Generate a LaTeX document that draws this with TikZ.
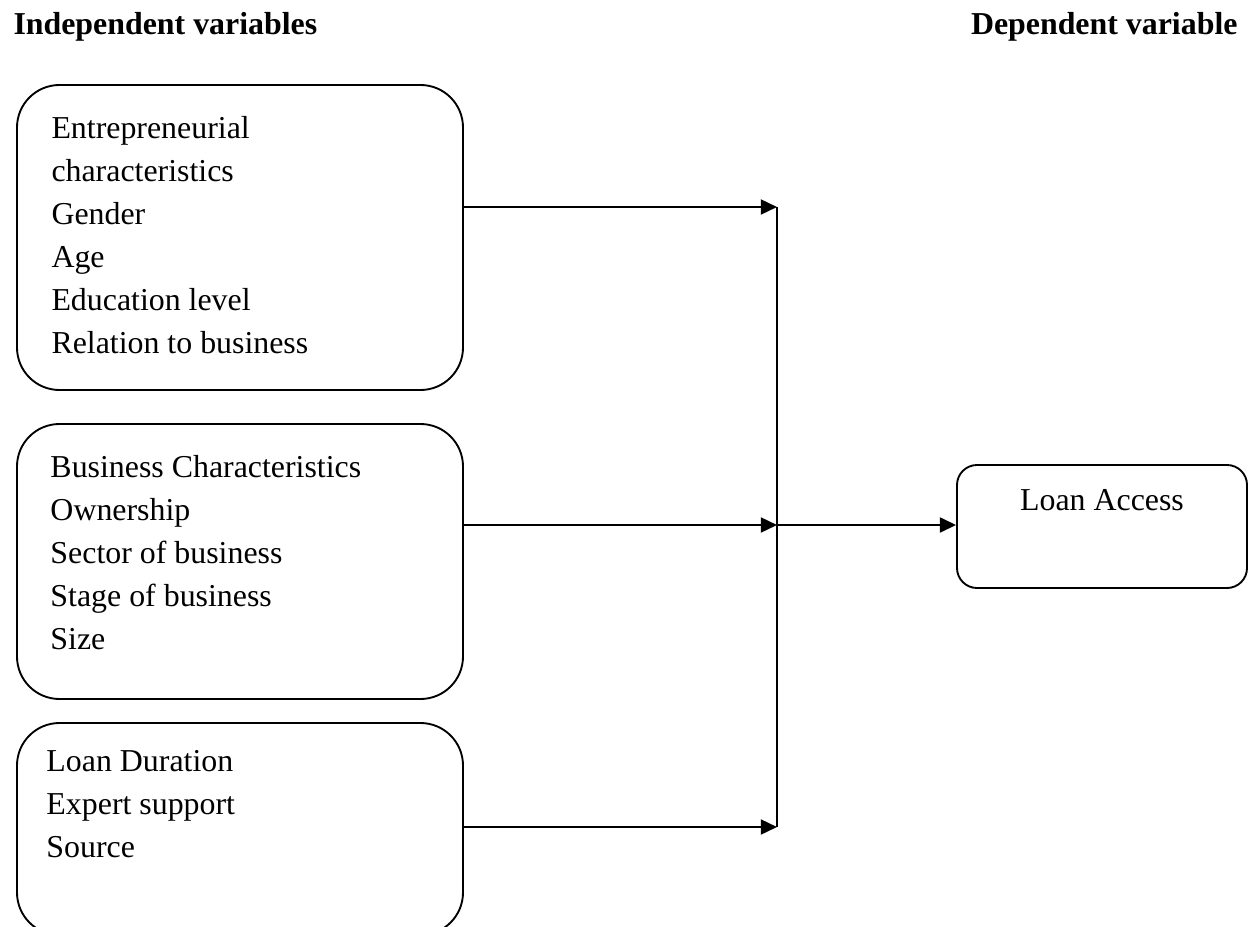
\documentclass[tikz,border=0pt]{standalone}
\usepackage{fontspec}
\setmainfont{Liberation Serif}
\usepackage{tikz}
\usetikzlibrary{arrows.meta, positioning, calc}

\begin{document}
\begin{tikzpicture}[
    x=0.4pt, y=-0.4pt,
    varbox/.style={rectangle, draw, line width=0.75pt, rounded corners=17pt, minimum width=178.4pt},
    depbox/.style={rectangle, draw, line width=0.75pt, rounded corners=8pt, minimum width=116pt, minimum height=49.2pt},
    itemtext/.style={align=left, inner sep=0pt, anchor=north west, font=\fontsize{12.75pt}{17.2pt}\selectfont},
    header/.style={inner sep=0pt, font=\fontsize{12.75pt}{15pt}\selectfont\bfseries},
    arrow/.style={-{Triangle[length=6.5pt, width=6pt]}, line width=0.9pt},
    line/.style={line width=0.9pt}
]
    \useasboundingbox (0,0) rectangle (1252,926);
    \clip (0,0) rectangle (1252,926);

    % Headers
    \node[header, anchor=base west] (indep) at (13,35) {Independent variables};
    \node[header, anchor=base east] (dep) at (1238,35) {Dependent variable};

    % Independent variable boxes
    \node[varbox, minimum height=122pt] (entre) at (240,237.5) {};
    \node[varbox, minimum height=110pt] (business) at (240,561.5) {};
    \node[varbox, minimum height=84.8pt] (loanvars) at (240,829) {};

    \node[itemtext] (entretext) at (51,116) {Entrepreneurial\\characteristics\\Gender\\Age\\Education level\\Relation to business};
    \node[itemtext] (businesstext) at (50,455) {Business Characteristics\\Ownership\\Sector of business\\Stage of business\\Size};
    \node[itemtext] (loanvarstext) at (46,750) {Loan Duration\\Expert support\\Source};

    % Dependent variable box
    \node[depbox] (access) at (1102,526.5) {};
    \node[itemtext, anchor=base] (accesstext) at (1102,510) {Loan Access};

    % Junction points
    \coordinate (j1) at (777,207);
    \coordinate (j2) at (777,525);
    \coordinate (j3) at (777,827);

    % Arrows
    \draw[arrow] (j1 -| entre.east) -- (j1);
    \draw[arrow] (j2 -| business.east) -- (j2);
    \draw[arrow] (j3 -| loanvars.east) -- (j3);
    \draw[line] (j1) -- (j3);
    \draw[arrow] (j2) -- (j2 -| access.west);

\end{tikzpicture}
\end{document}
